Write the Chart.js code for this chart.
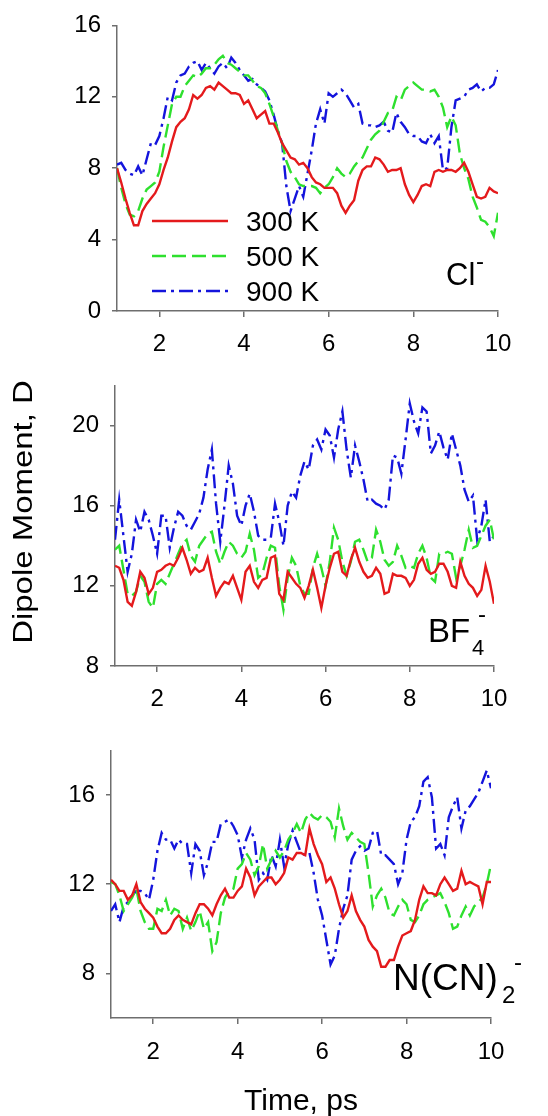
<!DOCTYPE html>
<html>
<head>
<meta charset="utf-8">
<script src="https://cdn.jsdelivr.net/npm/chart.js@4.4.1/dist/chart.umd.min.js"></script>
<style>
  html, body { margin: 0; padding: 0; background: #fff; }
  #wrap { position: relative; width: 548px; height: 1116px; overflow: hidden; }
  canvas { position: absolute; left: 0; }
</style>
</head>
<body>
<div id="wrap">
  <canvas id="c1" width="548" height="360" style="top:0px"></canvas>
  <canvas id="c2" width="548" height="365" style="top:360px"></canvas>
  <canvas id="c3" width="548" height="391" style="top:725px"></canvas>
</div>
<script>
// time, ps
const time = [
  1.0, 1.1, 1.2, 1.3, 1.4, 1.5, 1.6, 1.7, 1.8, 1.9,
  2.0, 2.1, 2.2, 2.3, 2.4, 2.5, 2.6, 2.7, 2.8, 2.9,
  3.0, 3.1, 3.2, 3.3, 3.4, 3.5, 3.6, 3.7, 3.8, 3.9,
  4.0, 4.1, 4.2, 4.3, 4.4, 4.5, 4.6, 4.7, 4.8, 4.9,
  5.0, 5.1, 5.2, 5.3, 5.4, 5.5, 5.6, 5.7, 5.8, 5.9,
  6.0, 6.1, 6.2, 6.3, 6.4, 6.5, 6.6, 6.7, 6.8, 6.9,
  7.0, 7.1, 7.2, 7.3, 7.4, 7.5, 7.6, 7.7, 7.8, 7.9,
  8.0, 8.1, 8.2, 8.3, 8.4, 8.5, 8.6, 8.7, 8.8, 8.9,
  9.0, 9.1, 9.2, 9.3, 9.4, 9.5, 9.6, 9.7, 9.8, 9.9,
  10.0
];
const temps = ['300 K', '500 K', '900 K'];

// Cl-
const cl300 = [
  8.0, 7.2, 6.3, 5.5, 4.8, 4.8, 5.6, 6.0, 6.3, 6.6,
  7.1, 7.9, 8.6, 9.5, 10.3, 10.6, 10.8, 11.3, 12.1, 11.9,
  12.1, 12.5, 12.6, 12.4, 12.8, 12.6, 12.4, 12.2, 12.2, 12.1,
  11.6, 11.8, 11.3, 10.8, 11.0, 11.2, 10.5, 10.5, 10.0, 9.4,
  9.0, 8.6, 8.5, 8.2, 8.3, 8.0, 7.5, 7.2, 7.1, 6.9,
  6.9, 6.9, 6.6, 5.9, 5.5, 5.9, 6.2, 7.3, 7.9, 8.1,
  8.1, 8.6, 8.5, 8.2, 7.8, 7.9, 7.9, 8.0, 7.1, 6.5,
  6.1, 6.5, 7.0, 7.1, 7.0, 7.8, 7.9, 7.8, 7.9, 7.9,
  7.8, 8.0, 8.3, 7.8, 7.1, 6.4, 6.3, 6.4, 6.9, 6.7,
  6.6
];
const cl500 = [
  8.0, 6.9, 6.0, 5.4, 5.3, 5.6, 6.3, 6.8, 7.0, 7.2,
  7.8, 9.2, 10.4, 11.6, 12.0, 12.0, 12.6, 12.9, 13.2, 13.1,
  13.3, 13.6, 13.6, 13.8, 14.1, 14.3, 13.9, 13.8, 13.6, 13.4,
  13.2, 13.2, 12.9, 12.6, 12.5, 12.2, 11.6, 10.9, 10.1, 9.4,
  8.4, 7.8, 7.5, 7.1, 7.0, 7.0, 7.0, 6.9, 6.6, 6.9,
  7.1, 7.5, 8.0, 7.7, 7.5, 7.7, 8.1, 8.4, 8.6, 9.1,
  9.6, 9.9, 10.1, 10.6, 11.1, 11.2, 12.0, 11.8, 12.4, 12.6,
  12.8, 12.6, 12.4, 12.4, 12.3, 12.4, 12.0, 11.4, 10.3, 10.9,
  10.4, 8.8, 8.0, 7.4, 6.4, 5.8, 5.1, 5.0, 4.7, 4.2,
  5.5
];
const cl900 = [
  8.2, 8.3, 7.9, 7.7, 7.6, 8.1, 7.6, 8.5, 9.4, 9.3,
  9.8, 10.8, 12.0, 11.8, 12.8, 13.2, 13.3, 13.7, 13.9, 14.0,
  13.5, 13.9, 13.6, 13.3, 13.7, 13.9, 13.6, 14.2, 13.9, 13.5,
  13.2, 12.9, 13.0, 12.7, 12.5, 12.3, 11.8, 11.0, 10.1, 9.4,
  7.0, 5.6, 6.3, 7.0, 6.4, 7.7, 9.0, 10.5, 11.3, 10.5,
  12.2, 12.0, 12.2, 12.4, 12.2, 11.8, 11.4, 11.6, 10.5, 10.4,
  10.4, 10.3, 10.4, 10.6, 10.1, 10.0, 11.1, 10.6, 10.3, 9.9,
  9.8, 9.8, 9.5, 9.4, 9.9, 9.4, 9.8, 7.9, 8.0, 10.3,
  11.8, 11.9, 12.0, 12.4, 12.5, 12.7, 12.3, 12.5, 12.5, 12.7,
  13.5
];

// BF4-
const bf300 = [
  13.0, 12.9, 12.3, 11.2, 11.0, 11.7, 12.7, 12.4, 11.6, 11.9,
  12.7, 12.8, 13.0, 13.1, 13.0, 13.4, 13.9, 13.3, 12.6, 12.9,
  12.7, 12.8, 13.4, 12.4, 11.5, 11.9, 12.2, 12.1, 12.5, 11.9,
  11.3, 12.7, 13.0, 12.2, 11.9, 12.3, 12.4, 13.4, 13.5, 11.6,
  11.3, 12.7, 12.4, 12.1, 11.9, 11.4, 12.0, 12.8, 11.9, 10.9,
  12.0, 12.9, 13.6, 13.7, 12.7, 12.5, 13.3, 13.9, 13.2, 12.7,
  12.4, 12.5, 12.9, 12.6, 11.6, 11.7, 12.6, 12.5, 12.5, 12.4,
  12.0, 12.3, 13.1, 13.4, 12.8, 12.6, 12.7, 13.1, 13.1, 12.7,
  12.0, 11.9, 13.2, 12.5, 12.1, 11.9, 11.5, 11.8, 13.0, 12.2,
  11.1
];
const bf500 = [
  13.8, 14.0, 12.8, 11.6, 11.5, 11.7, 12.5, 12.2, 11.2, 10.9,
  12.1, 12.3, 12.1, 12.6, 13.1, 13.6, 14.1, 14.3, 13.5, 13.2,
  14.0, 14.3, 14.6, 14.7, 13.7, 13.1, 13.7, 14.2, 14.0, 13.6,
  13.4, 13.7, 14.6, 13.8, 12.4, 12.6, 13.4, 14.0, 13.9, 12.0,
  10.8, 12.4, 13.4, 13.0, 12.0, 11.6, 11.6, 12.9, 13.6, 12.9,
  12.0, 13.2, 14.9, 14.3, 13.2, 12.5, 13.2, 14.2, 14.3, 13.8,
  13.2, 13.4, 14.8, 14.2, 13.3, 13.0, 13.2, 14.0, 13.5, 12.9,
  13.0, 12.9, 13.6, 14.0, 13.4, 12.4, 12.2, 13.6, 13.6, 13.7,
  13.6, 12.4, 13.0, 13.8, 14.8, 13.9, 14.0, 14.5, 15.0, 15.3,
  14.3
];
const bf900 = [
  14.3, 16.3, 14.5, 12.7, 13.6, 15.3, 14.7, 15.7, 15.3, 14.5,
  13.6, 15.5, 15.5, 13.9, 14.9, 15.7, 15.5, 15.0, 14.8, 15.2,
  15.6, 16.4, 17.8, 18.8, 16.1, 14.2, 16.0, 18.0, 17.1, 15.5,
  15.0, 16.0, 16.6, 15.7, 14.5, 14.3, 14.3, 14.4, 16.1, 15.2,
  14.0, 16.0, 16.7, 16.4, 17.5, 18.2, 17.8, 19.0, 19.3, 18.8,
  19.8, 19.5, 18.4, 19.8, 20.7, 18.8, 17.4, 19.0, 18.2, 17.3,
  16.2, 16.3, 16.1, 16.0, 15.8, 16.3, 18.5, 18.4, 17.6, 19.3,
  21.1, 20.2, 19.6, 20.9, 20.7, 18.6, 19.0, 19.7, 18.9, 18.3,
  19.6, 18.8, 18.0, 16.8, 16.2, 16.5, 14.3, 15.0, 16.3, 14.2,
  14.5
];

// N(CN)2-
const dca300 = [
  12.2, 12.0, 11.7, 11.7, 11.3, 11.5, 12.0, 11.2, 10.9, 10.7,
  10.5, 10.1, 9.8, 9.8, 10.0, 10.4, 10.6, 10.4, 10.3, 10.2,
  10.7, 11.1, 11.1, 10.9, 10.6, 11.1, 11.5, 11.8, 11.4, 11.4,
  11.7, 11.9, 12.7, 12.3, 11.5, 11.9, 12.1, 12.3, 12.3, 12.0,
  12.2, 12.5, 13.2, 13.1, 13.4, 13.4, 13.3, 14.5, 13.8, 13.3,
  12.9, 12.1, 12.3, 11.8, 11.1, 10.5, 10.8, 11.5, 10.8, 10.4,
  10.1, 9.5, 9.2, 9.0, 8.3, 8.3, 8.6, 8.6, 9.2, 9.7,
  9.8, 9.9, 10.4, 11.3, 11.9, 11.6, 11.6, 11.5, 12.0, 12.3,
  12.0, 11.7, 11.8, 12.6, 12.0, 12.1, 12.0, 11.9, 11.1, 12.1,
  12.1
];
const dca500 = [
  12.1, 12.0, 11.5, 10.8, 11.1, 11.4, 11.8, 10.8, 10.3, 10.0,
  10.0, 10.9, 10.8, 11.3, 10.6, 10.9, 10.8, 10.0, 10.5, 9.9,
  10.3, 10.8, 10.0, 10.3, 9.0, 9.4, 10.7, 11.4, 11.7, 11.8,
  12.7, 12.9, 13.4, 13.1, 12.4, 12.8, 13.8, 12.7, 13.1, 13.5,
  13.2, 13.5, 14.0, 14.3, 14.7, 14.3, 14.9, 15.2, 15.0, 14.9,
  15.1, 15.0, 14.8, 14.1, 15.4, 14.6, 14.0, 14.3, 14.1, 13.9,
  13.8, 12.5, 11.0, 11.5, 11.8, 11.4, 10.7, 10.6, 11.0, 11.3,
  11.1, 10.4, 10.3, 10.6, 11.1, 11.3, 11.4, 11.5, 11.6, 11.2,
  10.7, 10.0, 10.1, 10.6, 11.0, 10.6, 11.0, 11.2, 11.4, 12.0,
  12.9
];
const dca900 = [
  10.8, 11.1, 10.3, 11.0, 11.2, 11.5, 11.7, 11.7, 11.6, 11.3,
  12.2, 13.5, 14.3, 14.0, 14.0, 13.6, 14.0, 13.8, 13.8, 12.5,
  13.8, 13.5, 12.4, 13.0, 13.9, 13.9, 14.7, 14.8, 14.9, 14.6,
  14.2, 13.2, 14.0, 14.5, 14.0, 12.2, 12.5, 12.2, 13.3, 12.8,
  14.0, 12.8, 13.8, 14.4, 13.9, 13.4, 13.3, 13.4, 12.5, 11.3,
  10.6, 9.5, 8.4, 8.8, 10.0, 10.9, 11.5, 13.1, 13.5, 13.7,
  13.5, 13.6, 14.3, 14.4, 13.3, 13.3, 13.1, 12.9, 12.0, 12.5,
  14.0, 14.8, 15.0, 15.5, 16.6, 16.8, 15.9, 13.6, 13.8, 13.3,
  15.0, 15.5, 15.9, 14.5, 15.3, 15.5, 15.8, 16.1, 16.6, 17.1,
  16.3
];

// tick labels
const xTicks = [2, 4, 6, 8, 10];
const clYTicks = [0, 4, 8, 12, 16];
const bfYTicks = [8, 12, 16, 20];
const dcaYTicks = [8, 12, 16];

const FONT = '"Liberation Sans", Arial, Helvetica, sans-serif';
const AXIS = '#6e6e6e';
const styles = [
  { color: '#e41a1c', dash: [] },
  { color: '#2ee02e', dash: [14, 6] },
  { color: '#1414dc', dash: [14, 5, 3, 5] }
];

function txt(ctx, s, x, y, size, align) {
  ctx.font = size + 'px ' + FONT;
  ctx.textAlign = align || 'left';
  ctx.textBaseline = 'alphabetic';
  ctx.fillStyle = '#000';
  ctx.fillText(s, x, y);
}

function makePanel(id, series, yMin, yMax, yTicks, box, decor) {
  const axisTicks = arr => s => { s.ticks = arr.map(v => ({ value: v })); };
  const axis = (arr, extra) => Object.assign({
    type: 'linear',
    afterBuildTicks: axisTicks(arr),
    grid: { display: true, drawOnChartArea: false, drawTicks: true, tickLength: 6, color: AXIS, lineWidth: 1.5 },
    border: { display: true, color: AXIS, width: 1.5 },
    ticks: { color: '#000', font: { family: FONT, size: 24 }, maxRotation: 0, autoSkip: false }
  }, extra);

  const x = axis(xTicks, { min: 1, max: 10, afterFit: s => { s.height = box.xHeight; } });
  x.ticks.padding = box.xPad;
  const y = axis(yTicks, { min: yMin, max: yMax, afterFit: s => { s.width = box.yWidth; } });
  y.grid.tickLength = 5;
  y.ticks.padding = 11;

  return new Chart(document.getElementById(id), {
    type: 'line',
    data: {
      labels: time,
      datasets: series.map((d, i) => ({
        label: temps[i],
        data: d,
        borderColor: styles[i].color,
        borderDash: styles[i].dash,
        borderWidth: 2.4,
        pointRadius: 0,
        tension: 0,
        fill: false
      }))
    },
    options: {
      responsive: false,
      animation: false,
      layout: { padding: { top: box.top, right: box.right, left: 0, bottom: 0 } },
      scales: { x: x, y: y },
      plugins: { legend: { display: false }, tooltip: { enabled: false } }
    },
    plugins: [{ id: 'decor', afterDraw: c => decor(c.ctx, c) }]
  });
}

makePanel('c1', [cl300, cl500, cl900], 0, 16, clYTicks,
  { top: 25, right: 50, yWidth: 117, xHeight: 49, xPad: 13 },
  (ctx, c) => {
    // legend inside the plot
    c.data.datasets.forEach((ds, i) => {
      const ly = 221 + i * 35;
      ctx.save();
      ctx.strokeStyle = ds.borderColor;
      ctx.lineWidth = 2.4;
      ctx.setLineDash(ds.borderDash);
      ctx.beginPath();
      ctx.moveTo(152, ly);
      ctx.lineTo(228, ly);
      ctx.stroke();
      ctx.restore();
      txt(ctx, ds.label, 246, ly + 10, 28);
    });
    txt(ctx, 'Cl', 446, 285, 31);
    txt(ctx, '-', 476, 269, 24);
  });

makePanel('c2', [bf300, bf500, bf900], 8, 22, bfYTicks,
  { top: 22, right: 54, yWidth: 115, xHeight: 59, xPad: 13 },
  (ctx) => {
    txt(ctx, 'BF', 428, 282, 33);
    txt(ctx, '4', 472, 295, 22);
    txt(ctx, '-', 478, 262, 24);
    // y axis title, stretched along its length as in the figure
    ctx.save();
    ctx.translate(32, 152);
    ctx.rotate(-Math.PI / 2);
    ctx.scale(1.22, 1);
    txt(ctx, 'Dipole Moment, D', 0, 0, 27, 'center');
    ctx.restore();
  });

makePanel('c3', [dca300, dca500, dca900], 6, 18, dcaYTicks,
  { top: 8, right: 57, yWidth: 111, xHeight: 98, xPad: 14 },
  (ctx) => {
    txt(ctx, 'N(CN)', 393, 265, 37);
    txt(ctx, '2', 502, 278, 24);
    txt(ctx, '-', 514, 245, 24);
    txt(ctx, 'Time, ps', 301, 385, 30, 'center');
  });
</script>
</body>
</html>
